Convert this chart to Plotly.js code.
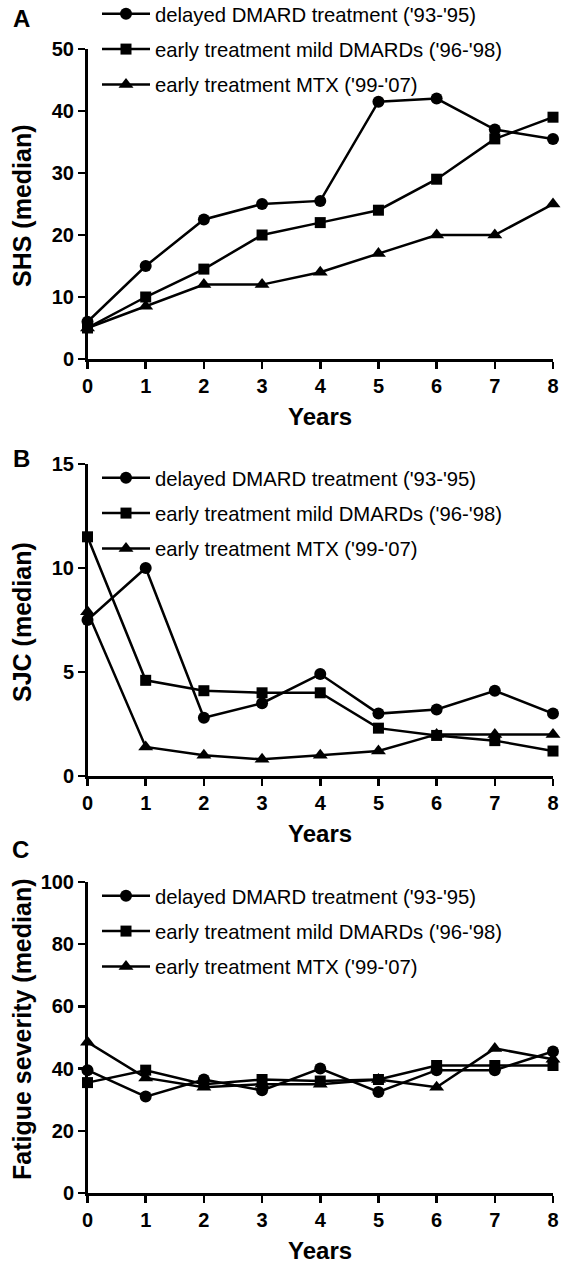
<!DOCTYPE html>
<html>
<head>
<meta charset="utf-8">
<script src="https://cdn.plot.ly/plotly-3.0.1.min.js"></script>
<style>html,body{margin:0;padding:0;background:#fff;}#chart{width:564px;height:1265px;}</style>
</head>
<body>
<div id="chart"></div>
<script>
// ---- data ----
const years = [0, 1, 2, 3, 4, 5, 6, 7, 8];
const seriesNames = ["delayed DMARD treatment ('93-'95)", "early treatment mild DMARDs ('96-'98)", "early treatment MTX ('99-'07)"];
const shsDelayed = [6, 15, 22.5, 25, 25.5, 41.5, 42, 37, 35.5];
const shsMild    = [5, 10, 14.5, 20, 22, 24, 29, 35.5, 39];
const shsMtx     = [5, 8.5, 12, 12, 14, 17, 20, 20, 25];
const sjcDelayed = [7.5, 10, 2.8, 3.5, 4.9, 3.0, 3.2, 4.1, 3.0];
const sjcMild    = [11.5, 4.6, 4.1, 4.0, 4.0, 2.3, 1.95, 1.7, 1.2];
const sjcMtx     = [7.9, 1.4, 1.0, 0.8, 1.0, 1.2, 2.0, 2.0, 2.0];
const fatDelayed = [39.5, 31, 36.5, 33, 40, 32.5, 39.5, 39.5, 45.5];
const fatMild    = [35.5, 39.5, 35, 36.5, 36, 36.5, 41, 41, 41];
const fatMtx     = [48.5, 37, 34, 35, 35, 36.5, 34, 46.5, 43];
const yTitles = ["SHS (median)", "SJC (median)", "Fatigue severity (median)"];
const xTitle = "Years";
const panelLetters = ["A", "B", "C"];
const yTickVals = [[0, 10, 20, 30, 40, 50], [0, 5, 10, 15], [0, 20, 40, 60, 80, 100]];

// ---- styling ----
const FONT = "Liberation Sans, Arial, sans-serif";
const W = 564, H = 1265;
const symbols = ["circle", "square", "triangle-up"];
const msizes = [12, 11, 13];
const panels = [
  {vals: [shsDelayed, shsMild, shsMtx], range: [0, 50], ax: "", leg: "legend"},
  {vals: [sjcDelayed, sjcMild, sjcMtx], range: [0, 15], ax: "2", leg: "legend2"},
  {vals: [fatDelayed, fatMild, fatMtx], range: [0, 100], ax: "3", leg: "legend3"}
];
// pixel positions (top px of max, px of zero)
const pix = [[49, 359], [464, 776], [882, 1193]];
const xL = 87.5, xR = 553;

const traces = [];
panels.forEach((p, pi) => {
  p.vals.forEach((v, si) => {
    traces.push({
      x: years, y: v, type: "scatter", mode: "lines+markers",
      name: seriesNames[si],
      xaxis: "x" + p.ax, yaxis: "y" + p.ax,
      legend: p.leg, legendgroup: "g" + pi + "_" + si,
      line: {color: "#000", width: 2.5},
      marker: {symbol: symbols[si], size: msizes[si], color: "#000"},
      cliponaxis: false
    });
  });
});

const layout = {
  width: W, height: H,
  margin: {l: 0, r: 0, t: 0, b: 0, autoexpand: false},
  paper_bgcolor: "#fff", plot_bgcolor: "#fff",
  font: {family: FONT, color: "#000"},
  showlegend: true,
  annotations: []
};
const legY = [-6, 458, 876];
panels.forEach((p, pi) => {
  const xa = {
    domain: [xL / W, xR / W], range: [0, 8], tickvals: years,
    showline: true, linecolor: "#000", linewidth: 2.5,
    ticks: "outside", ticklen: 7, tickwidth: 2.5, tickcolor: "#000",
    showgrid: false, zeroline: false, fixedrange: true, automargin: false,
    tickfont: {family: FONT, size: 20, weight: "bold", color: "#000"},
    anchor: "y" + p.ax
  };
  const ya = {
    domain: [1 - pix[pi][1] / H, 1 - pix[pi][0] / H], range: p.range, tickvals: yTickVals[pi],
    showline: true, linecolor: "#000", linewidth: 2.5,
    ticks: "outside", ticklen: 7, tickwidth: 2.5, tickcolor: "#000",
    showgrid: false, zeroline: false, fixedrange: true, automargin: false,
    tickfont: {family: FONT, size: 20, weight: "bold", color: "#000"},
    anchor: "x" + p.ax
  };
  layout["xaxis" + p.ax] = xa;
  layout["yaxis" + p.ax] = ya;
  layout[p.leg] = {
    x: 97 / W, xanchor: "left", y: 1 - legY[pi] / H, yanchor: "top",
    bgcolor: "rgba(0,0,0,0)", borderwidth: 0,
    font: {family: FONT, size: 20.3, color: "#000"},
    traceorder: "grouped", tracegroupgap: 6, itemwidth: 48
  };
  const mid = (pix[pi][0] + pix[pi][1]) / 2;
  layout.annotations.push({
    xref: "paper", yref: "paper", x: 22 / W, y: 1 - (pi === 2 ? 1030 : mid + 2) / H,
    xanchor: "center", yanchor: "middle", showarrow: false, textangle: -90,
    text: yTitles[pi], font: {family: FONT, size: 25, weight: "bold", color: "#000"}
  });
  layout.annotations.push({
    xref: "paper", yref: "paper", x: 320 / W, y: 1 - (pix[pi][1] + 57) / H,
    xanchor: "center", yanchor: "middle", showarrow: false,
    text: xTitle, font: {family: FONT, size: 24, weight: "bold", color: "#000"}
  });
});
const letterPos = [[21, 18], [21, 458], [20, 849]];
panelLetters.forEach((t, i) => {
  layout.annotations.push({
    xref: "paper", yref: "paper", x: letterPos[i][0] / W, y: 1 - letterPos[i][1] / H,
    xanchor: "center", yanchor: "middle", showarrow: false,
    text: t, font: {family: FONT, size: 24, weight: "bold", color: "#000"}
  });
});

Plotly.newPlot("chart", traces, layout, {staticPlot: true, displayModeBar: false});
</script>
</body>
</html>
